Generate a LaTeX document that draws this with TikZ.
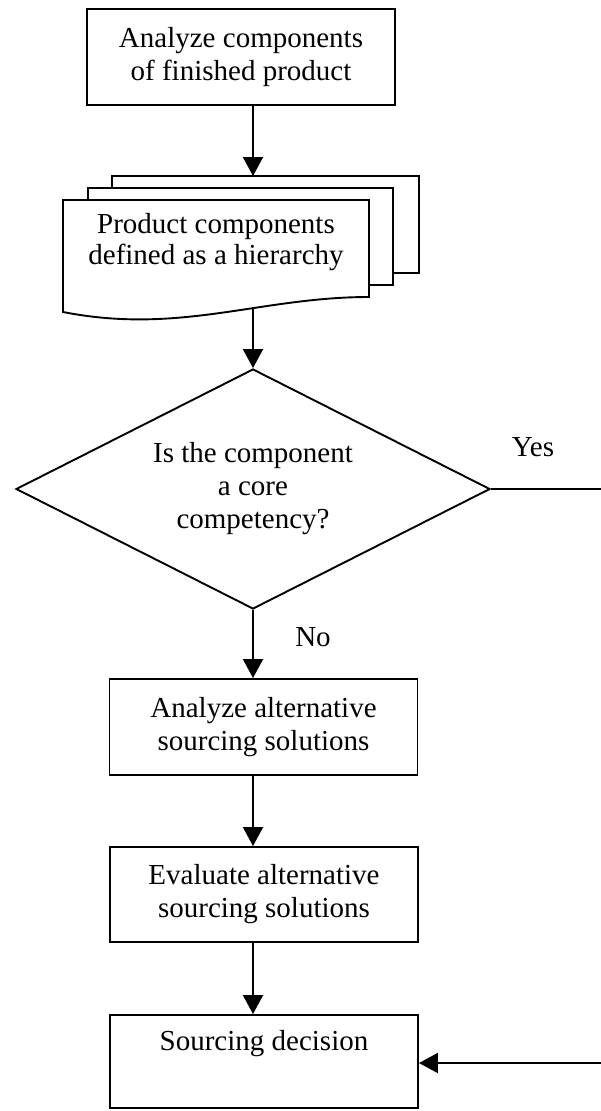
\documentclass[tikz,border=0pt]{standalone}
\usepackage{fontspec}
\setmainfont{Liberation Serif}
\usetikzlibrary{arrows.meta,shapes.geometric}

\tikzset{
  flowline/.style={line width=1.9pt, line join=miter},
  arr/.style={flowline, -{Triangle[width=20pt,length=19pt]}},
  txt/.style={font=\fontsize{29}{33}\selectfont, align=center},
  procbox/.style={txt, draw, flowline, rectangle, inner sep=0pt, minimum width=308pt},
  decision/.style={txt, draw, flowline, diamond, aspect=2, inner sep=0pt},
}

\begin{document}
\begin{tikzpicture}[x=1pt, y=-1pt]
  \useasboundingbox (0,0) rectangle (601,1111);

  % first process step
  \node[procbox, minimum height=96pt] (box1) at (241,57)
    {Analyze components\\of finished product};

  % stacked documents: back and middle sheets
  \draw[flowline] (112,188) -- (112,176) -- (419,176) -- (419,273) -- (393,273);
  \draw[flowline] (88,200) -- (88,188) -- (393,188) -- (393,285) -- (369,285);
  % front sheet with wavy lower edge
  \draw[flowline, fill=white] (63,200) -- (369,200) -- (369,297)
    .. controls (260,297) and (180,335) .. (63,312) -- cycle;
  \node[txt, font=\fontsize{29}{31}\selectfont] (doc) at (216,242) {Product components\\defined as a hierarchy};
  \coordinate (backtop) at (253,176);
  \coordinate (docout) at (253,307);

  % decision
  \node[decision, minimum width=474pt, minimum height=240pt] (dia) at (253,489)
    {Is the component\\a core\\competency?};

  % remaining process steps
  \node[procbox, minimum height=96pt] (box2) at (263.5,727)
    {Analyze alternative\\sourcing solutions};
  \node[procbox, minimum height=95pt] (box3) at (264,894.5)
    {Evaluate alternative\\sourcing solutions};
  \node[procbox, minimum height=93pt] (box4) at (264,1061.5) {};
  \node[txt] (box4t) at (264,1044) {Sourcing decision};

  % branch labels
  \node[txt] (yes) at (533,447) {Yes};
  \node[txt] (no) at (313,637) {No};

  % free ends of the "Yes" branch
  \coordinate (yesend) at (601,489);
  \coordinate (yesback) at (601,1063);

  % connectors
  \draw[arr] (box1.south -| backtop) -- (backtop);
  \draw[arr] (docout) -- (dia.north);
  \draw[arr] (dia.south) -- (dia.south |- box2.north);
  \draw[arr] (box2.south -| dia.south) -- (box3.north -| dia.south);
  \draw[arr] (box3.south -| dia.south) -- (box4.north -| dia.south);
  \draw[flowline] (dia.east) -- (yesend);
  \draw[arr] (yesback) -- (yesback -| box4.east);
\end{tikzpicture}
\end{document}
